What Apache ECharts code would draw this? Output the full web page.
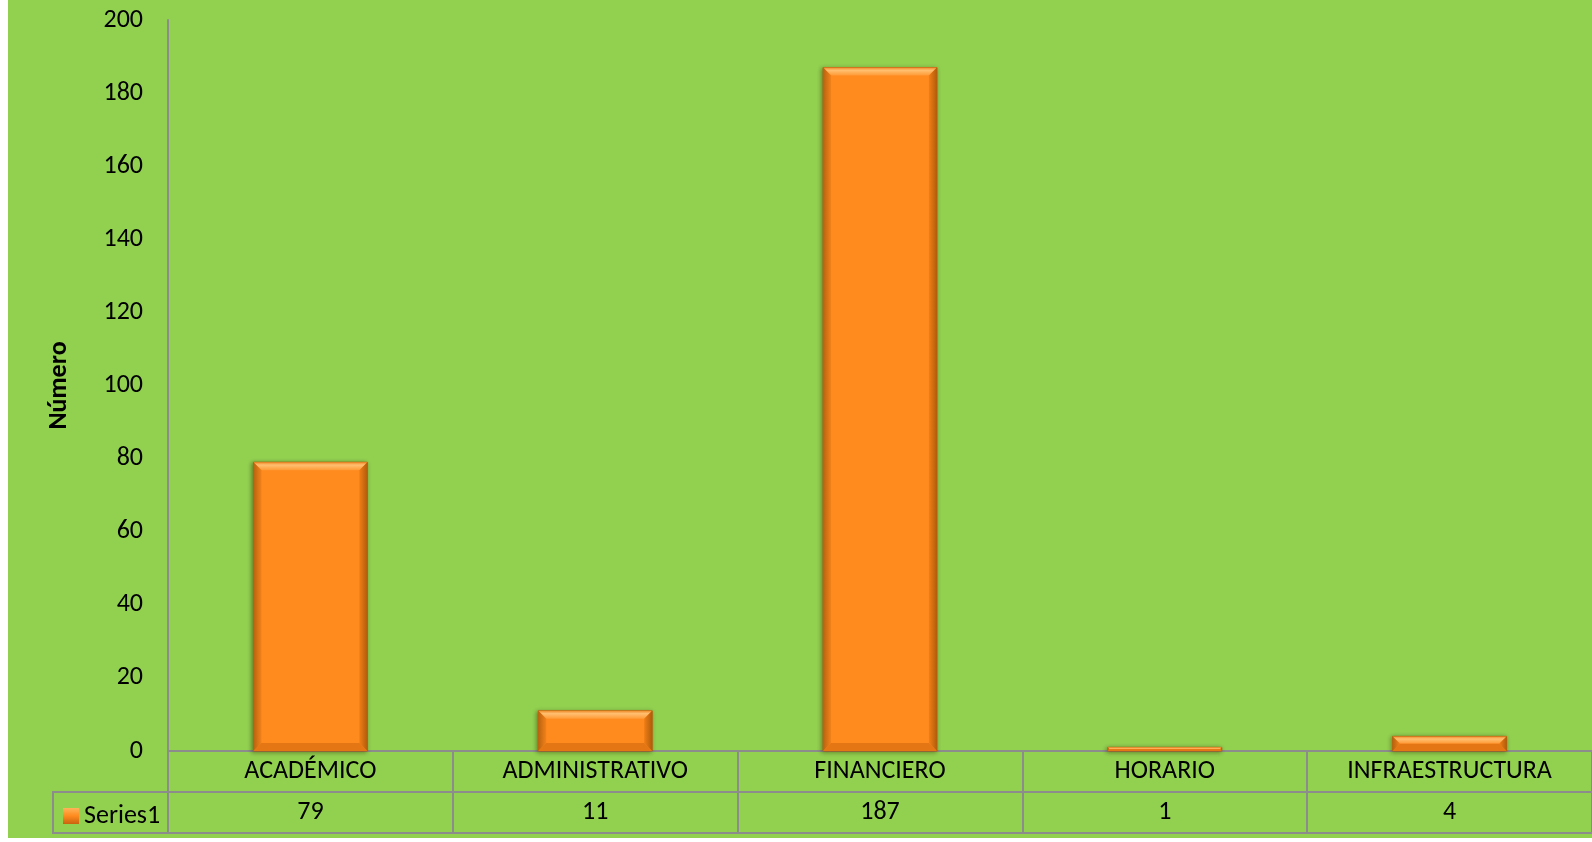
<!DOCTYPE html>
<html>
<head>
<meta charset="utf-8">
<script src="https://cdn.jsdelivr.net/npm/echarts@6/dist/echarts.min.js"></script>
<style>
  html, body { margin: 0; padding: 0; background: #ffffff; }
  #bg { position: absolute; left: 8px; top: 0; width: 1584px; height: 838px; background: #92D050; }
  #chart { position: absolute; left: 0; top: 0; width: 1592px; height: 842px; }
</style>
</head>
<body>
<div id="bg"></div>
<div id="chart"></div>
<script>
const categories = ['ACADÉMICO', 'ADMINISTRATIVO', 'FINANCIERO', 'HORARIO', 'INFRAESTRUCTURA'];
const values = [79, 11, 187, 1, 4];
const seriesName = 'Series1';
const yTicks = { min: 0, max: 200, interval: 20 };

const FONT = 'Carlito, Lato, sans-serif';
const GRAY = '#8C8C8C';
const FS = 26;

const chart = echarts.init(document.getElementById('chart'), null, { renderer: 'canvas' });

function renderBar(params, api) {
  const idx = api.value(0);
  const v = api.value(1);
  const top = api.coord([idx, v]);
  const base = api.coord([idx, 0]);
  const bw = api.size([1, 0])[0] * 0.4;
  const x0 = top[0] - bw / 2, x1 = top[0] + bw / 2;
  const y0 = top[1], y1 = base[1];
  const h = y1 - y0;
  const b = Math.max(0.5, Math.min(8, h / 2, bw / 2));
  return {
    type: 'group',
    children: [
      { type: 'rect', shape: { x: x0, y: y0, width: bw, height: h },
        style: { fill: '#FF8A1E', stroke: '#B5600F', lineWidth: 1,
                 shadowBlur: 4, shadowColor: 'rgba(40,40,0,0.45)', shadowOffsetX: -1, shadowOffsetY: 1 } },
      { type: 'polygon', shape: { points: [[x0, y0], [x1, y0], [x1 - b, y0 + b], [x0 + b, y0 + b]] },
        style: { fill: new echarts.graphic.LinearGradient(0, 0, 0, 1, [
          { offset: 0, color: '#F08A2A' }, { offset: 0.35, color: '#FFC070' }, { offset: 1, color: '#FF9A36' }]) } },
      { type: 'polygon', shape: { points: [[x0, y0], [x0 + b, y0 + b], [x0 + b, y1 - b], [x0, y1]] },
        style: { fill: new echarts.graphic.LinearGradient(0, 0, 1, 0, [
          { offset: 0, color: '#B8620F' }, { offset: 1, color: '#F2821A' }]) } },
      { type: 'polygon', shape: { points: [[x1, y0], [x1 - b, y0 + b], [x1 - b, y1 - b], [x1, y1]] },
        style: { fill: new echarts.graphic.LinearGradient(0, 0, 1, 0, [
          { offset: 0, color: '#F07E16' }, { offset: 1, color: '#B05C0C' }]) } },
      { type: 'polygon', shape: { points: [[x0, y1], [x0 + b, y1 - b], [x1 - b, y1 - b], [x1, y1]] },
        style: { fill: '#E47614' } }
    ]
  };
}

const option = {
  backgroundColor: 'transparent',
  animation: false,
  textStyle: { fontFamily: FONT },
  grid: { left: 168, top: 20, width: 1429, height: 731, containLabel: false },
  legend: {
    left: 58, top: 798, itemWidth: 16, itemHeight: 16, itemGap: 4,
    icon: 'rect',
    data: [{ name: seriesName, itemStyle: { color: new echarts.graphic.LinearGradient(0, 0, 0, 1, [
      { offset: 0, color: '#FFB45A' }, { offset: 0.5, color: '#FF8A1E' }, { offset: 1, color: '#C8640E' }]) } }],
    textStyle: { fontSize: FS, color: '#000', fontFamily: FONT, padding: [0, 0, 0, 0] },
    selectedMode: false
  },
  xAxis: [
    {
      type: 'category', data: categories, position: 'bottom', gridIndex: 0,
      axisLine: { show: true, lineStyle: { color: GRAY, width: 2 } },
      axisTick: { show: true, length: 82, lineStyle: { color: GRAY, width: 2 } },
      axisLabel: { fontSize: FS, color: '#000', margin: 7, fontFamily: FONT },
      splitLine: { show: false }
    },
    {
      type: 'category', data: categories, position: 'bottom', offset: 41, gridIndex: 0,
      axisLine: { show: true, lineStyle: { color: GRAY, width: 2 } },
      axisTick: { show: false },
      axisLabel: { fontSize: FS, color: '#000', margin: 7, fontFamily: FONT,
        formatter: (val, i) => String(values[i]) },
      splitLine: { show: false }
    },
    {
      type: 'category', data: categories, position: 'bottom', offset: 82, gridIndex: 0,
      axisLine: { show: true, lineStyle: { color: GRAY, width: 2 } },
      axisTick: { show: false }, axisLabel: { show: false }, splitLine: { show: false }
    }
  ],
  yAxis: {
    type: 'value', min: yTicks.min, max: yTicks.max, interval: yTicks.interval,
    name: 'Número', nameLocation: 'middle', nameRotate: 90, nameGap: 96,
    nameTextStyle: { fontSize: FS, fontWeight: 'bold', color: '#000', fontFamily: FONT },
    axisLine: { show: true, lineStyle: { color: GRAY, width: 2 } },
    axisTick: { show: false },
    axisLabel: { fontSize: FS, color: '#000', margin: 25, fontFamily: FONT },
    splitLine: { show: false }
  },
  graphic: [
    { type: 'line', shape: { x1: 53, y1: 792, x2: 168, y2: 792 }, style: { stroke: GRAY, lineWidth: 2 }, z: 10 },
    { type: 'line', shape: { x1: 53, y1: 833, x2: 168, y2: 833 }, style: { stroke: GRAY, lineWidth: 2 }, z: 10 },
    { type: 'line', shape: { x1: 53, y1: 791, x2: 53, y2: 834 }, style: { stroke: GRAY, lineWidth: 2 }, z: 10 },
    { type: 'line', shape: { x1: 168, y1: 751, x2: 168, y2: 834 }, style: { stroke: GRAY, lineWidth: 2 }, z: 10 }
  ],
  series: [{
    name: seriesName, type: 'custom', xAxisIndex: 0, yAxisIndex: 0,
    renderItem: renderBar,
    encode: { x: 0, y: 1 },
    data: values.map((v, i) => [i, v]),
    itemStyle: { color: '#FF8A1E' }
  }]
};
chart.setOption(option);
</script>
</body>
</html>
